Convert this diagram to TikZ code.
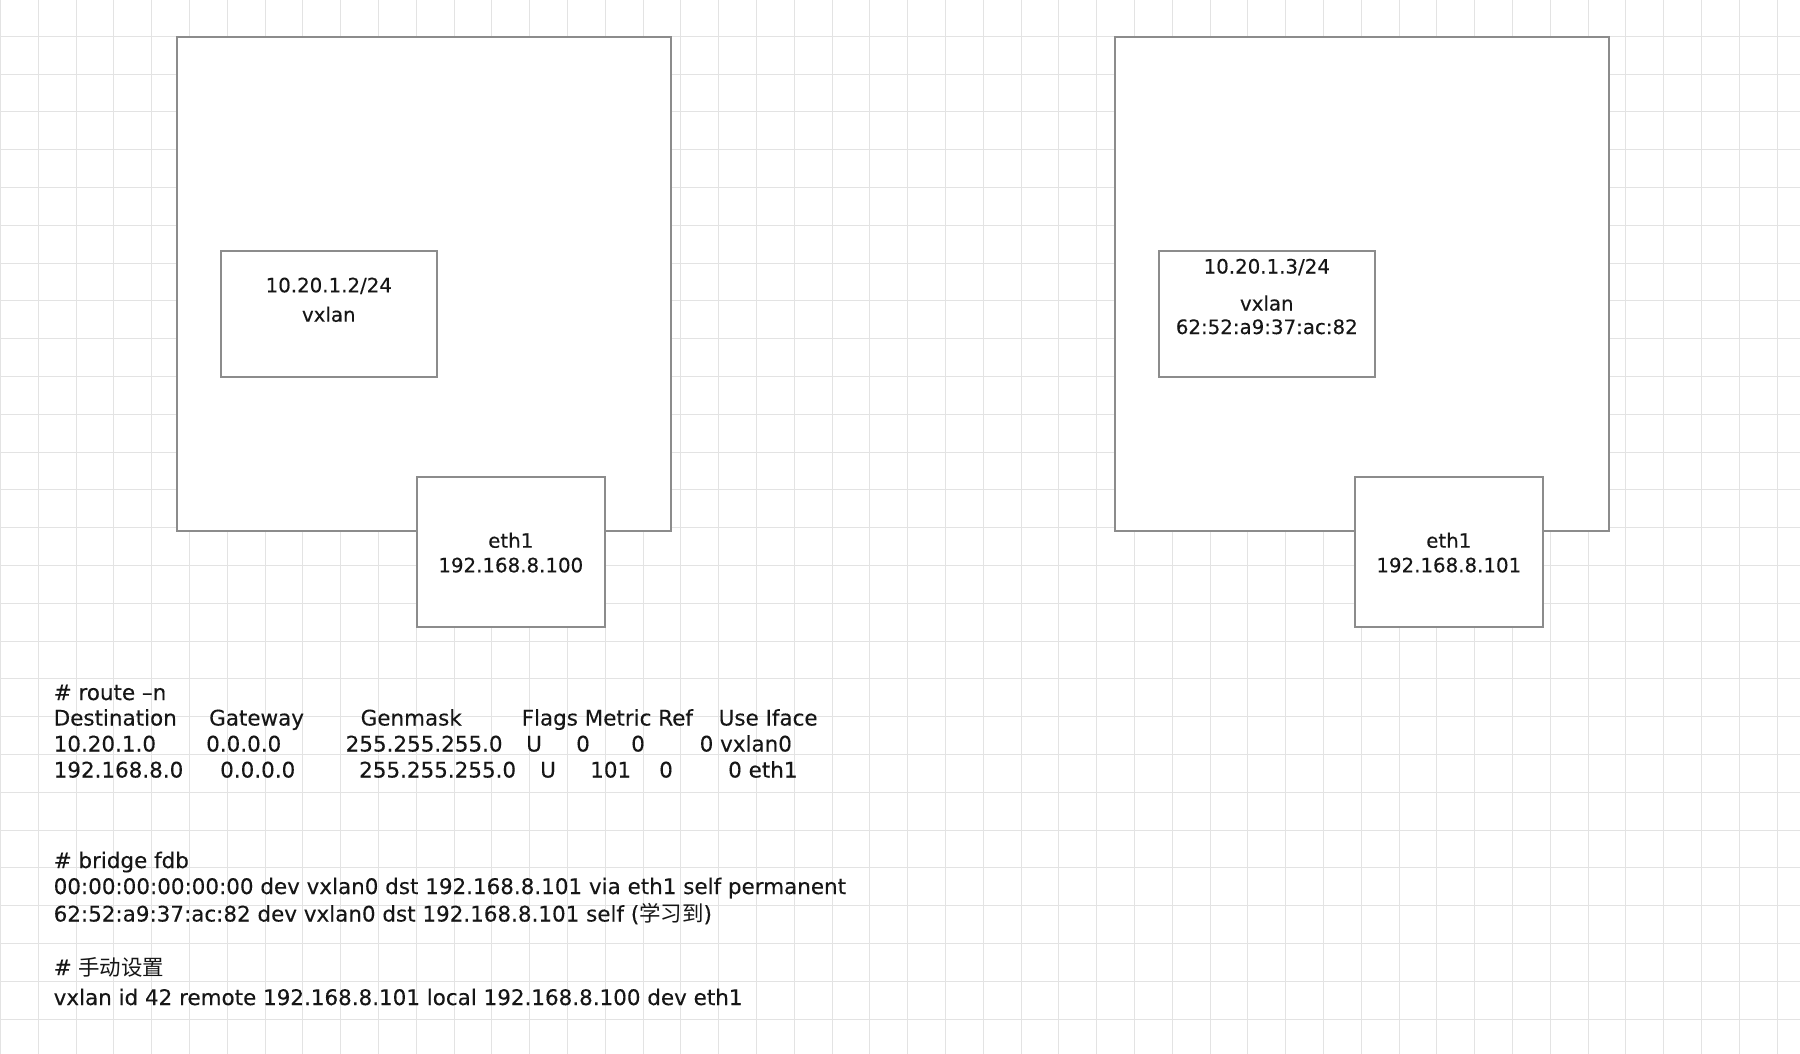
\documentclass[tikz,border=0pt]{standalone}
\usepackage{fontspec}
\newfontfamily\dv[FakeBold=0.25]{DejaVu Sans}
\newfontfamily\cjk{Noto Sans CJK SC}
\definecolor{gridc}{HTML}{E3E3E3}
\definecolor{boxc}{HTML}{8C8C8C}
\definecolor{txt}{HTML}{161616}
\begin{document}
\begin{tikzpicture}[x=1pt,y=-1pt,
  box/.style={draw=boxc, line width=1.8pt, fill=white, anchor=north west, inner sep=0pt, outer sep=0pt},
  lbl/.style={anchor=base, inner sep=0pt, text=txt, font=\dv\fontsize{19.8}{24.6}\selectfont},
  code/.style={anchor=base west, inner sep=0pt, text=txt, font=\dv\fontsize{21.45}{26}\selectfont}]
\useasboundingbox (0,0) rectangle (1800,1054);
\fill[white] (0,0) rectangle (1800,1054);
% grid
\foreach \k in {0,...,47} \draw[gridc, line width=1pt] ({0.5+\k*37.8},0) -- ({0.5+\k*37.8},1054);
\foreach \k in {0,...,28} \draw[gridc, line width=1pt] (0,{-1.5+\k*37.8}) -- (1800,{-1.5+\k*37.8});
% host A
\node[box, minimum width=493.8pt, minimum height=494pt] (hostA) at (176.8,36.7) {};
\node[box, minimum width=216.3pt, minimum height=126pt] (vxA) at (220.7,250.7) {};
\node[box, minimum width=188.3pt, minimum height=149.7pt] (ethA) at (416.7,477) {};
\node[lbl] (vxAip) at (328.8,292.3) {10.20.1.2/24};
\node[lbl] (vxAname) at (328.8,321.7) {vxlan};
\node[lbl] (ethAname) at (510.8,547.7) {eth1};
\node[lbl] (ethAip) at (510.8,572.3) {192.168.8.100};
% host B
\node[box, minimum width=494.3pt, minimum height=494pt] (hostB) at (1114.7,36.7) {};
\node[box, minimum width=216.3pt, minimum height=126pt] (vxB) at (1158.7,250.7) {};
\node[box, minimum width=188.3pt, minimum height=149.7pt] (ethB) at (1354.7,477) {};
\node[lbl] (vxBip) at (1266.8,273.5) {10.20.1.3/24};
\node[lbl] (vxBname) at (1266.8,310.5) {vxlan};
\node[lbl] (vxBmac) at (1266.8,334) {62:52:a9:37:ac:82};
\node[lbl] (ethBname) at (1448.8,547.7) {eth1};
\node[lbl] (ethBip) at (1448.8,572.3) {192.168.8.101};
% route table
\node[code] (rt) at (53.5,700) {\# route –n};
\node[code] (h1) at (53.5,725.5) {Destination};
\node[code] (h2) at (209,725.5) {Gateway};
\node[code] (h3) at (360.5,725.5) {Genmask};
\node[code] (h4) at (521.5,725.5) {Flags Metric Ref};
\node[code] (h5) at (718.5,725.5) {Use Iface};
\node[code] (r1a) at (53.5,751.5) {10.20.1.0};
\node[code] (r1b) at (206,751.5) {0.0.0.0};
\node[code] (r1c) at (345.5,751.5) {255.255.255.0};
\node[code] (r1d) at (526,751.5) {U};
\node[code] (r1e) at (576,751.5) {0};
\node[code] (r1f) at (631,751.5) {0};
\node[code] (r1g) at (699.5,751.5) {0 vxlan0};
\node[code] (r2a) at (53.5,777.5) {192.168.8.0};
\node[code] (r2b) at (220,777.5) {0.0.0.0};
\node[code] (r2c) at (359,777.5) {255.255.255.0};
\node[code] (r2d) at (540,777.5) {U};
\node[code] (r2e) at (590,777.5) {101};
\node[code] (r2f) at (659,777.5) {0};
\node[code] (r2g) at (728,777.5) {0 eth1};
% bridge fdb
\node[code] (bf) at (53.5,868) {\# bridge fdb};
\node[code] (bf1) at (53.5,894) {00:00:00:00:00:00 dev vxlan0 dst 192.168.8.101 via eth1 self permanent};
\node[code] (bf2) at (53.5,921.5) {62:52:a9:37:ac:82 dev vxlan0 dst 192.168.8.101 self ({\cjk 学习到})};
% manual
\node[code] (ms) at (53.5,975) {\# {\cjk 手动设置}};
\node[code] (ms1) at (53.5,1005) {vxlan id 42 remote 192.168.8.101 local 192.168.8.100 dev eth1};
\end{tikzpicture}
\end{document}
